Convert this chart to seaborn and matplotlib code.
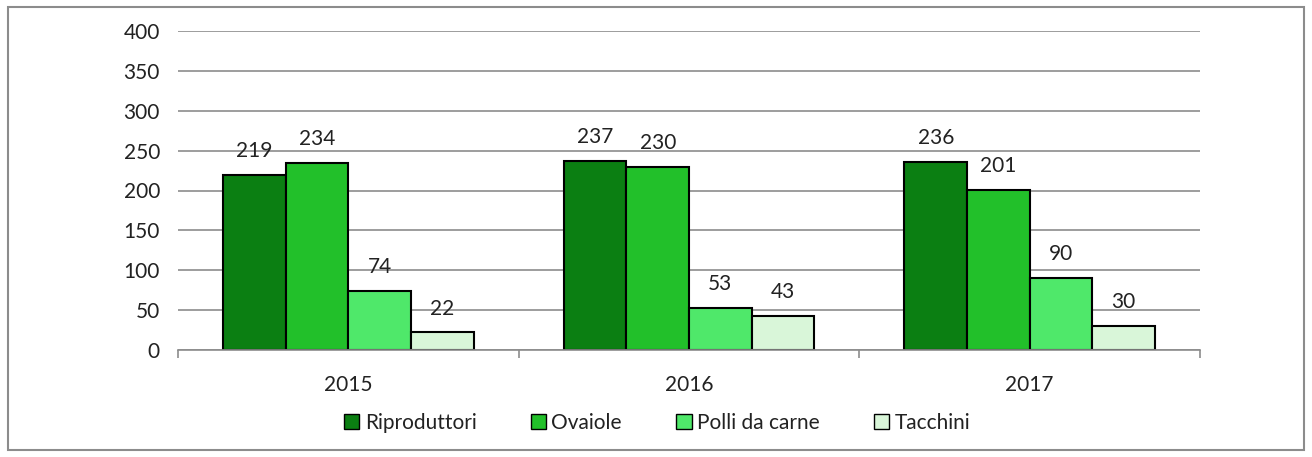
import pandas as pd
import matplotlib.pyplot as plt
import matplotlib.patches as mpatches
import seaborn as sns

# data
years = ['2015', '2016', '2017']
categories = ['Riproduttori', 'Ovaiole', 'Polli da carne', 'Tacchini']
riproduttori = [219, 237, 236]
ovaiole = [234, 230, 201]
polli = [74, 53, 90]
tacchini = [22, 43, 30]
colors = ['#0b7f12', '#22c02a', '#4fe86a', '#d9f6d9']

df = pd.DataFrame({
    'Anno': years * 4,
    'Categoria': [c for c in categories for _ in years],
    'Valore': riproduttori + ovaiole + polli + tacchini,
})

sns.set_theme(style='white')
plt.rcParams['font.family'] = ['Lato', 'DejaVu Sans']

fig = plt.figure(figsize=(13.12, 4.57), dpi=100)
ax = fig.add_axes([178 / 1312, 1 - 350 / 457, 1022 / 1312, 319 / 457])

sns.barplot(data=df, x='Anno', y='Valore', hue='Categoria', hue_order=categories,
            palette=colors, width=0.735, edgecolor='black', linewidth=1.5,
            saturation=1, ax=ax, legend=False)

for cont in ax.containers:
    ax.bar_label(cont, padding=10, fontsize=15, color='#222222')

ax.set_xlim(-0.5, 2.5)
ax.set_ylim(0, 400)
ax.set_yticks(range(0, 401, 50))
ax.yaxis.grid(True, color='#8c8c8c', linewidth=1.2)
ax.set_axisbelow(True)
ax.set_xlabel('')
ax.set_ylabel('')
for s in ['top', 'right', 'left']:
    ax.spines[s].set_visible(False)
ax.spines['bottom'].set_color('#8c8c8c')
ax.spines['bottom'].set_linewidth(1.2)
ax.tick_params(axis='y', length=0, pad=13, labelsize=15, labelcolor='#222222')
ax.tick_params(axis='x', length=0, pad=18, labelsize=15, labelcolor='#222222')
ax.set_xticks([-0.5, 0.5, 1.5, 2.5], minor=True)
ax.tick_params(axis='x', which='minor', length=6, color='#8c8c8c', width=1.2, bottom=True)

handles = [mpatches.Patch(facecolor=c, edgecolor='black', label=l) for c, l in zip(colors, categories)]
fig.legend(handles=handles, loc='center', bbox_to_anchor=(657 / 1312, 1 - 423 / 457), ncol=4,
           frameon=False, fontsize=15, handlelength=0.75, handleheight=0.75,
           handletextpad=0.25, columnspacing=2.6, labelcolor='#222222')

fig.patches.append(mpatches.Rectangle((8 / 1312, 7 / 457), 1296 / 1312, 443 / 457,
                                      transform=fig.transFigure, fill=False,
                                      edgecolor='#8c8c8c', linewidth=1.5))

fig.savefig('out.png', dpi=100)
